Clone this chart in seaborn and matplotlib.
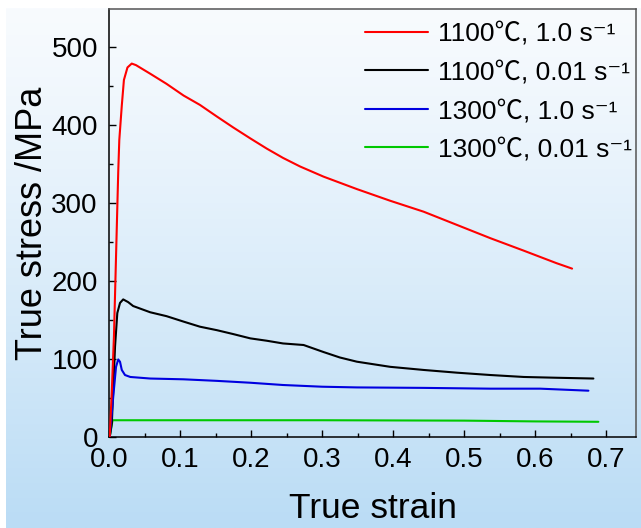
import numpy as np
import pandas as pd
import matplotlib
matplotlib.use("Agg")
import matplotlib.pyplot as plt
from matplotlib.ticker import MultipleLocator
import seaborn as sns

# ---------------- data ----------------
labels = ["1100℃, 1.0 s⁻¹", "1100℃, 0.01 s⁻¹", "1300℃, 1.0 s⁻¹", "1300℃, 0.01 s⁻¹"]
colors = ["#ff0000", "#000000", "#0000e0", "#00c800"]

red_x = [0.001, 0.004, 0.007, 0.009, 0.011, 0.013, 0.0145, 0.018, 0.021, 0.026, 0.032, 0.038,
         0.058, 0.081, 0.105, 0.128, 0.152, 0.175, 0.199, 0.222, 0.245, 0.269, 0.302, 0.349,
         0.396, 0.443, 0.490, 0.537, 0.584, 0.630, 0.652]
red_y = [0, 60, 130, 200, 270, 340, 381, 425, 458, 474, 479, 477,
         466, 453, 438, 426, 411, 397, 383, 370, 358, 347, 334, 318,
         303, 289, 272, 255, 239, 223, 216]

black_x = [0.001, 0.004, 0.0085, 0.0117, 0.0155, 0.020, 0.027, 0.034, 0.058, 0.081, 0.105,
           0.128, 0.152, 0.175, 0.199, 0.222, 0.245, 0.274, 0.302, 0.325, 0.349, 0.396,
           0.443, 0.490, 0.537, 0.584, 0.630, 0.682]
black_y = [0, 18, 116, 159, 172, 176.5, 173, 168, 160, 155, 148,
           141.5, 137, 132, 126.5, 123.5, 120, 118, 109, 102, 96.6, 90,
           86, 82.5, 79.5, 77, 76, 75]

blue_x = [0.001, 0.006, 0.0099, 0.013, 0.0155, 0.018, 0.0225, 0.030, 0.058, 0.105, 0.152,
          0.199, 0.245, 0.300, 0.349, 0.443, 0.537, 0.607, 0.675]
blue_y = [0, 52, 90, 99.5, 96.5, 86, 79.5, 77, 75, 74, 72,
          69.6, 66.7, 64.5, 63.6, 63, 62, 62, 59.4]

green_x = [0.001, 0.005, 0.1, 0.3, 0.5, 0.6, 0.689]
green_y = [0, 21.5, 21.5, 21.5, 21, 20, 19.5]

series_x = [red_x, black_x, blue_x, green_x]
series_y = [red_y, black_y, blue_y, green_y]

x_ticks = [0.0, 0.1, 0.2, 0.3, 0.4, 0.5, 0.6, 0.7]
y_ticks = [0, 100, 200, 300, 400, 500]

# ---------------- style ----------------
sns.set_style("ticks")
plt.rcParams["font.family"] = ["Liberation Sans", "Noto Sans CJK SC", "DejaVu Sans"]
plt.rcParams["text.color"] = "black"
plt.rcParams["axes.labelcolor"] = "black"
plt.rcParams["xtick.color"] = "black"
plt.rcParams["ytick.color"] = "black"

W, H = 641, 528
fig = plt.figure(figsize=(W / 100, H / 100), dpi=100)
fig.patch.set_facecolor("white")

# background gradient (white at top to light blue at bottom)
bg = fig.add_axes([6 / W, 0, 1 - 6 / W, 1 - 8 / H], zorder=0)
top = np.array([248, 251, 254]) / 255
bot = np.array([186, 220, 245]) / 255
t = np.linspace(0, 1, 256) ** 1.15
grad = (top[None, :] * (1 - t[:, None]) + bot[None, :] * t[:, None])[:, None, :]
bg.imshow(grad, aspect="auto", extent=[0, 1, 0, 1], interpolation="bilinear")
bg.set_axis_off()

ax = fig.add_axes([109 / W, 1 - 437 / H, (636 - 109) / W, (437 - 9) / H], zorder=1)
ax.patch.set_alpha(0)

frames = []
for lab, xs, ys in zip(labels, series_x, series_y):
    frames.append(pd.DataFrame({"strain": xs, "stress": ys, "cond": lab}))
df = pd.concat(frames, ignore_index=True)

zorders = [5, 3, 4, 2]
for lab, col, z in zip(labels, colors, zorders):
    sub = df[df["cond"] == lab]
    sns.lineplot(data=sub, x="strain", y="stress", ax=ax, color=col, lw=1.5,
                 label=lab, sort=False, estimator=None, zorder=z)

ax.set_xlim(0, 0.742)
ax.set_ylim(0, 549)
ax.set_xticks(x_ticks)
ax.set_yticks(y_ticks)
ax.set_xticklabels([f"{v:.1f}" for v in x_ticks])
ax.xaxis.set_minor_locator(MultipleLocator(0.05))
ax.yaxis.set_minor_locator(MultipleLocator(50))
ax.tick_params(which="both", direction="in", top=False, right=False, width=1.0,
               labelsize=20, colors="black", labelcolor="black")
ax.tick_params(which="major", length=5)
ax.tick_params(which="minor", length=3)
ax.tick_params(axis="x", pad=7)
ax.tick_params(axis="y", pad=8)

for s in ["left", "bottom"]:
    ax.spines[s].set_linewidth(1.1)
    ax.spines[s].set_color("black")
for s in ["top", "right"]:
    ax.spines[s].set_visible(True)
    ax.spines[s].set_linewidth(1.1)
    ax.spines[s].set_color("#555555")

ax.set_xlabel("True strain", fontsize=25.5, labelpad=14, color="black")
ax.set_ylabel("True stress /MPa", fontsize=26, labelpad=1, color="black")

leg = ax.legend(loc="upper left", bbox_to_anchor=(365 / W, 1 - 22 / H),
                bbox_transform=fig.transFigure, frameon=False, fontsize=19,
                handlelength=2.37, handletextpad=0.4, labelspacing=0.55,
                borderpad=0, borderaxespad=0)
for txt in leg.get_texts():
    txt.set_color("black")

fig.savefig("out.png", dpi=100, facecolor=fig.get_facecolor())
